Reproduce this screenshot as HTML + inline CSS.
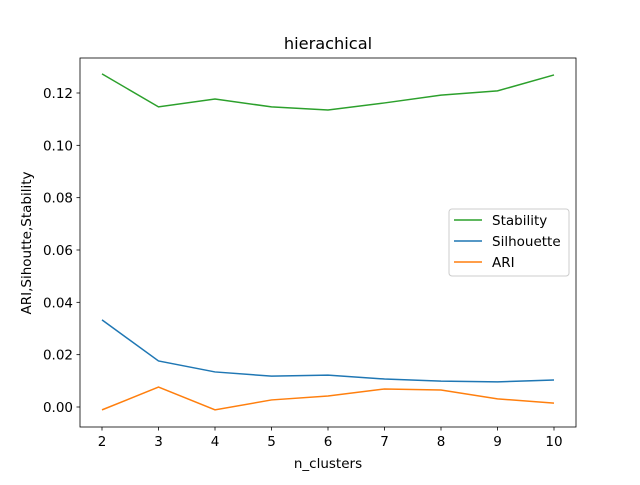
<!DOCTYPE html>
<html><head><meta charset="utf-8"><style>body{margin:0;background:#fff}svg{font-family:"DejaVu Sans","Liberation Sans",sans-serif}</style></head>
<body>
<svg id="chart" width="640" height="480">
<rect width="640" height="480" fill="#fff"/>
<text x="328" y="49" font-size="16.2" text-anchor="middle">hierachical</text>
<g id="plot"></g>
<rect x="80" y="58" width="496" height="369" fill="none" stroke="#000" stroke-width="0.8"/>
<text x="328" y="468" font-size="13.5" text-anchor="middle">n_clusters</text>
<text transform="translate(31,243) rotate(-90)" font-size="13.5" text-anchor="middle">ARI,Sihoutte,Stability</text>
<g>
<rect x="449" y="209" width="120" height="67" rx="3" fill="#fff" fill-opacity="0.8" stroke="#ccc"/>
<line x1="454" y1="220" x2="482" y2="220" stroke="#2ca02c" stroke-width="1.5"/>
<text x="492" y="225" font-size="13.5">Stability</text>
<line x1="454" y1="241" x2="482" y2="241" stroke="#1f77b4" stroke-width="1.5"/>
<text x="492" y="246" font-size="13.5">Silhouette</text>
<line x1="454" y1="262" x2="482" y2="262" stroke="#ff7f0e" stroke-width="1.5"/>
<text x="492" y="267" font-size="13.5">ARI</text>
</g>
</svg>
<script>
const categories=[2,3,4,5,6,7,8,9,10];
const stability=[0.1273,0.1147,0.1177,0.1147,0.1135,0.1162,0.1192,0.1208,0.1269];
const silhouette=[0.0333,0.0176,0.0134,0.0118,0.0122,0.0107,0.0099,0.0096,0.0103];
const ari=[-0.0011,0.0076,-0.0011,0.0027,0.0042,0.0069,0.0065,0.0031,0.0015];
const yTicks=[0,0.02,0.04,0.06,0.08,0.10,0.12];
const yTickLabels=["0.00","0.02","0.04","0.06","0.08","0.10","0.12"];
const NS="http://www.w3.org/2000/svg";
const g=document.getElementById('plot');
const xs=v=>102+(v-2)*56.5;
const ys=v=>407-v*2616.7;
function mk(t,a){const e=document.createElementNS(NS,t);for(const k in a)e.setAttribute(k,a[k]);g.appendChild(e);return e;}
categories.forEach(c=>{
 const l=mk('line',{x1:xs(c),x2:xs(c),y1:427,y2:430.5,stroke:'#000','stroke-width':0.8});
 
 
 const t=mk('text',{x:xs(c),y:446,'font-size':13.5,'text-anchor':'middle'});t.textContent=c;
 
 
});
yTicks.forEach((v,i)=>{
 const l=mk('line',{x1:76.5,x2:80,y1:ys(v),y2:ys(v),stroke:'#000','stroke-width':0.8});
 
 
 const t=mk('text',{x:73,y:ys(v)+5,'font-size':13.5,'text-anchor':'end'});t.textContent=yTickLabels[i];
 
 
});
[[stability,'#2ca02c','stability-line'],[silhouette,'#1f77b4','silhouette-line'],[ari,'#ff7f0e','ari-line']].forEach(([d,c,n])=>{
 const p=mk('polyline',{points:d.map((v,i)=>xs(categories[i])+','+ys(v)).join(' '),fill:'none',stroke:c,'stroke-width':1.5});
 
 
});
</script>
</body></html>
